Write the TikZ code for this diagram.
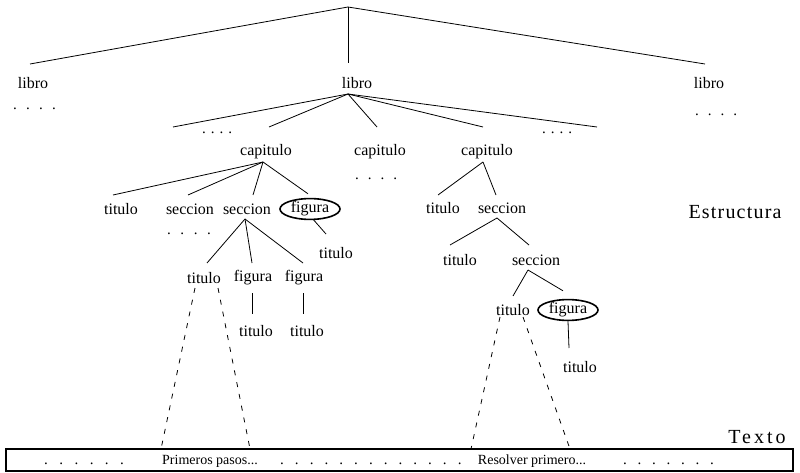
\documentclass[tikz,border=0pt]{standalone}
\usepackage{fontspec}
\setmainfont{Liberation Serif}
\usetikzlibrary{shapes.geometric,calc}
\newcommand\dotrow[2]{\foreach \k in {1,...,#1}{\makebox[#2pt][l]{.}}}
\begin{document}
\begin{tikzpicture}[x=1pt,y=-1pt,
  lab/.style={font=\fontsize{16}{19}\selectfont, inner sep=0pt},
  figbox/.style={lab, ellipse, draw, line width=1.6pt, minimum width=60pt, minimum height=20pt},
  conn/.style={line width=0.8pt},
  dsh/.style={line width=0.8pt, dash pattern=on 5pt off 7pt},
  dotline/.style={font=\fontsize{15}{18}\selectfont, inner sep=0pt, anchor=base west},
  bigtxt/.style={font=\fontsize{20}{24}\selectfont, inner sep=0pt},
  bartext/.style={font=\fontsize{14}{16}\selectfont, inner sep=0pt}]
\useasboundingbox (0,0) rectangle (800,473);

% nodes
\coordinate (root) at (348,7);
\node[lab] (lib1) at (33,83) {libro};
\node[lab] (lib2) at (357,83) {libro};
\node[lab] (lib3) at (709,83) {libro};
\coordinate (lib2b) at ($(lib2)+(-9,11)$);
\coordinate (e1) at (173,127);
\coordinate (e2) at (597,127);
\node[lab] (cap1) at (266,152) {capitulo};
\node[lab] (cap2) at (380,152) {capitulo};
\node[lab] (cap3) at (487,152) {capitulo};

\node[lab] (tit1) at (121,209) {titulo};
\node[lab] (sec1) at (190,209) {seccion};
\node[lab] (sec2) at (247,209) {seccion};
\node[figbox] (fig1) at (310,209) {figura};
\node[lab] (tit1b) at (336,253) {titulo};
\node[lab] (tit2) at (204,278) {titulo};
\node[lab] (fig2) at (253,278) {figura};
\node[lab] (fig3) at (304,278) {figura};
\node[lab] (tit3) at (256,331) {titulo};
\node[lab] (tit4) at (307,331) {titulo};

\node[lab] (tit5) at (443,208) {titulo};
\node[lab] (sec3) at (502,208) {seccion};
\node[lab] (tit6) at (460,260) {titulo};
\node[lab] (sec4) at (536,260) {seccion};
\node[lab] (tit7) at (513,310) {titulo};
\node[figbox] (fig4) at (568,310) {figura};
\node[lab] (tit8) at (580,367) {titulo};

\node[bigtxt] (estr) at (735,212) {\addfontfeature{LetterSpace=6}Estructura};
\node[bigtxt] (texto) at (757,437) {\addfontfeature{LetterSpace=15}Texto};

% dots
\node[dotline] (d1) at (13,110) {\dotrow{4}{13}};
\node[dotline] (d2) at (202,134) {\dotrow{4}{8.7}};
\node[dotline] (d3) at (542,134) {\dotrow{4}{8.7}};
\node[dotline] (d4) at (355,179) {\dotrow{4}{12.7}};
\node[dotline] (d5) at (167,234) {\dotrow{4}{13.3}};
\node[dotline] (d6) at (695,116) {\dotrow{4}{12.7}};

% text bar
\node[draw, line width=1.1pt, minimum width=787pt, minimum height=22pt, inner sep=0pt] (bar) at (399.5,460) {};
\node[bartext] (t1) at (210,461) {Primeros pasos...};
\node[bartext] (t2) at (532,461) {Resolver primero...};
\node[dotline] (b1) at (44,464) {\dotrow{6}{15.2}};
\node[dotline] (b2) at (280,464) {\dotrow{13}{14.8}};
\node[dotline] (b3) at (623,464) {\dotrow{7}{14.5}};

% connectors
\draw[conn] (root) -- ($(lib1)+(-3,-19)$);
\draw[conn] (root) -- ($(lib2)+(-9,-20)$);
\draw[conn] (root) -- ($(lib3)+(-4,-19)$);

\draw[conn] (lib2b) -- (e1);
\draw[conn] (lib2b) -- ($(cap1)+(3,-25)$);
\draw[conn] (lib2b) -- ($(cap2)+(-3,-25)$);
\draw[conn] (lib2b) -- ($(cap3)+(-4,-25)$);
\draw[conn] (lib2b) -- (e2);

\draw[conn] ($(cap1)+(-3,10)$) -- ($(tit1)+(-8,-14)$);
\draw[conn] ($(cap1)+(-3,10)$) -- ($(sec1)+(-2,-14)$);
\draw[conn] ($(cap1)+(-3,10)$) -- ($(sec2)+(6,-14)$);
\draw[conn] ($(cap1)+(-3,10)$) -- ($(fig1.north)+(-2,-4)$);
\draw[conn] ($(fig1.south)+(3,-1)$) -- ($(tit1b)+(-10,-19)$);

\draw[conn] ($(sec2)+(-2,10)$) -- ($(tit2)+(3,-15)$);
\draw[conn] ($(sec2)+(-2,10)$) -- ($(fig2)+(-1,-15)$);
\draw[conn] ($(sec2)+(-2,10)$) -- ($(fig3)+(-1,-15)$);
\draw[conn] ($(fig2)+(-1,15)$) -- ($(tit3)+(-4,-17)$);
\draw[conn] ($(fig3)+(-1,15)$) -- ($(tit4)+(-4,-17)$);

\draw[conn] ($(cap3)+(-4,10)$) -- ($(tit5)+(-5,-13)$);
\draw[conn] ($(cap3)+(-4,10)$) -- ($(sec3)+(-6,-13)$);
\draw[conn] ($(sec3)+(-5,10)$) -- ($(tit6)+(-10,-15)$);
\draw[conn] ($(sec3)+(-5,10)$) -- ($(sec4)+(-7,-15)$);
\draw[conn] ($(sec4)+(-8,10)$) -- ($(tit7)+(0,-14)$);
\draw[conn] ($(sec4)+(-8,10)$) -- ($(fig4.north)+(-5,-8)$);
\draw[conn] (fig4.south) -- ($(tit8)+(-11,-19)$);

% dashed links to the text
\draw[dsh] ($(tit2)+(-9,10)$) -- ($(tit2)+(-43,171)$);
\draw[dsh] ($(tit2)+(14,10)$) -- ($(tit2)+(46,171)$);
\draw[dsh] ($(tit7)+(-13,7)$) -- ($(tit7)+(-42,139)$);
\draw[dsh] ($(tit7)+(10,7)$) -- ($(tit7)+(57,139)$);
\end{tikzpicture}
\end{document}
